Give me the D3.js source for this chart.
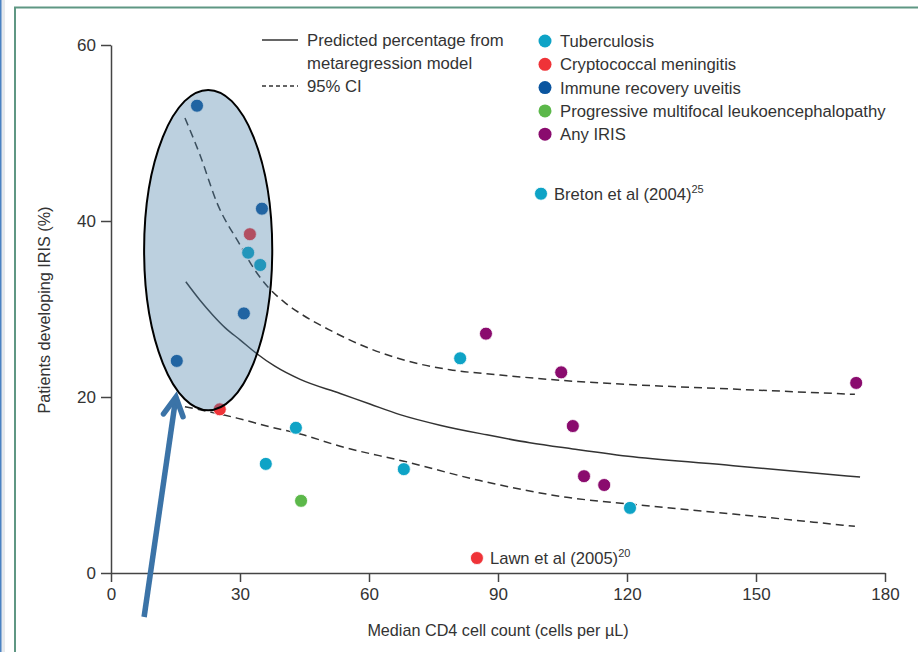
<!DOCTYPE html>
<html>
<head>
<meta charset="utf-8">
<script src="https://cdn.jsdelivr.net/npm/d3@7"></script>
<style>
  body { margin: 0; background: #fff; }
  text { font-family: "Liberation Sans", Arial, sans-serif; fill: #333; }
  .axis path, .axis line { stroke: #444; stroke-width: 1.5; }
  .axis text { font-size: 17px; fill: #333; }
</style>
</head>
<body>
<svg id="chart"></svg>
<script>
const width = 918,
      height = 652;

// categories and colours
const categories = ["Tuberculosis", "Cryptococcal meningitis", "Immune recovery uveitis",
                    "Progressive multifocal leukoencephalopathy", "Any IRIS"];
const catColors = ["#0ea3c6", "#ef3338", "#0b559f", "#5cb84a", "#8a0b6e"];

// study points (median CD4, % IRIS)
const tbX = [31.9, 34.7, 43.0, 36.0, 68.1, 81.2, 120.7];
const tbY = [36.4, 35.0, 16.5, 12.4, 11.8, 24.4, 7.4];
const cmX = [32.3, 25.3];
const cmY = [38.5, 18.6];
const iruX = [20.0, 35.1, 30.9, 15.3];
const iruY = [53.1, 41.4, 29.5, 24.1];
const pmlX = [44.2];
const pmlY = [8.2];
const anyX = [87.2, 104.7, 107.4, 110.0, 114.7, 173.3];
const anyY = [27.2, 22.8, 16.7, 11.0, 10.0, 21.6];

// labelled studies
const labelNames = ["Breton et al (2004)", "Lawn et al (2005)"];
const labelRefs = ["25", "20"];
const labelX = [100.0, 85.1];
const labelY = [43.1, 1.7];
const labelCat = [0, 1];

// metaregression fit and 95% CI
const fitX = [17.4, 20.7, 23.7, 26.7, 30.0, 33.7, 38.1, 44.0, 53.3, 60.2, 67.2, 76.5, 87.4, 97.4, 107.4, 121.4, 144.7, 174.2];
const fitY = [33.1, 31.0, 29.3, 27.8, 26.5, 25.0, 23.5, 22.0, 20.4, 19.2, 18.0, 16.8, 15.7, 14.8, 14.1, 13.2, 12.2, 10.9];
const upX = [17.2, 20.7, 24.7, 30.0, 33.5, 36.5, 40.5, 44.0, 50.9, 60.2, 68.1, 78.8, 90.5, 104.4, 121.4, 144.7, 173.0];
const upY = [51.7, 47.5, 42.0, 37.3, 34.4, 32.5, 30.7, 29.5, 27.6, 25.5, 24.2, 23.1, 22.5, 21.9, 21.4, 20.9, 20.3];
const loX = [17.2, 29.3, 37.0, 44.0, 53.3, 68.1, 85.8, 106.0, 121.4, 144.7, 173.0];
const loY = [18.9, 17.6, 16.6, 15.8, 14.4, 12.7, 10.5, 8.6, 7.8, 6.7, 5.3];

const xTicks = [0, 30, 60, 90, 120, 150, 180];
const yTicks = [0, 20, 40, 60];

const svg = d3.select("#chart").attr("width", width).attr("height", height);

// page frame
svg.append("rect").attr("x", 0).attr("y", 0).attr("width", 5).attr("height", height).attr("fill", "#e6e9ec");
svg.append("rect").attr("x", 0).attr("y", 0).attr("width", 1.5).attr("height", height).attr("fill", "#4a82c2");
svg.append("path").attr("d", `M15,${height} V7.5 H${width}`)
    .attr("fill", "none").attr("stroke", "#5f9783").attr("stroke-width", 2);

const x = d3.scaleLinear().domain([0, 180]).range([111, 885]);
const y = d3.scaleLinear().domain([0, 60]).range([573, 45]);

// axes
svg.append("g").attr("class", "axis")
    .attr("transform", `translate(0,${y(0)})`)
    .call(d3.axisBottom(x).tickValues(xTicks).tickSize(9).tickSizeOuter(0).tickPadding(6));
svg.append("g").attr("class", "axis")
    .attr("transform", `translate(${x(0)},0)`)
    .call(d3.axisLeft(y).tickValues(yTicks).tickSize(10).tickSizeOuter(0).tickPadding(5));

svg.append("text").attr("x", 498).attr("y", 636).attr("text-anchor", "middle")
    .style("font-size", "16.2px").text("Median CD4 cell count (cells per µL)");
svg.append("text").attr("transform", "translate(50,310) rotate(-90)").attr("text-anchor", "middle")
    .style("font-size", "16.2px").text("Patients developing IRIS (%)");

// curves
const line = d3.line().x(d => x(d[0])).y(d => y(d[1])).curve(d3.curveMonotoneX);
const curves = [
    { xs: fitX, ys: fitY, dash: null },
    { xs: upX, ys: upY, dash: "8,5" },
    { xs: loX, ys: loY, dash: "8,5" },
];
curves.forEach(c => {
    svg.append("path")
        .attr("d", line(d3.zip(c.xs, c.ys)))
        .attr("fill", "none").attr("stroke", "#333").attr("stroke-width", 1.5)
        .attr("stroke-dasharray", c.dash);
});

// points
const pts = [];
[[tbX, tbY], [cmX, cmY], [iruX, iruY], [pmlX, pmlY], [anyX, anyY]].forEach((s, i) => {
    s[0].forEach((v, j) => pts.push({ x: v, y: s[1][j], c: i }));
});
labelX.forEach((v, j) => pts.push({ x: v, y: labelY[j], c: labelCat[j] }));

svg.append("g").selectAll("circle").data(pts).join("circle")
    .attr("cx", d => x(d.x)).attr("cy", d => y(d.y)).attr("r", 6.5)
    .attr("fill", d => catColors[d.c]).attr("stroke", "#fff").attr("stroke-width", 0.8);

// labels for the two named studies
labelNames.forEach((n, j) => {
    const t = svg.append("text").attr("x", x(labelX[j]) + 13).attr("y", y(labelY[j]) + 6)
        .style("font-size", "16.6px").text(n);
    t.append("tspan").attr("dy", -7).style("font-size", "11px").text(labelRefs[j]);
});

// highlight ellipse (semi-transparent over the early points)
svg.append("ellipse")
    .attr("cx", x(22.6)).attr("cy", y(36.7))
    .attr("rx", x(14.9) - x(0)).attr("ry", y(0) - y(18.2))
    .attr("fill", "rgb(74,128,169)").attr("fill-opacity", 0.37)
    .attr("stroke", "#000").attr("stroke-width", 2);

// arrow pointing to the ellipse
const tail = [x(7.7), y(-5.0)], tip = [x(15.1), y(20.0)];
const ang = Math.atan2(tail[1] - tip[1], tail[0] - tip[0]);
const arm = 21, spread = 28 * Math.PI / 180;
const a1 = [tip[0] + arm * Math.cos(ang + spread), tip[1] + arm * Math.sin(ang + spread)];
const a2 = [tip[0] + arm * Math.cos(ang - spread), tip[1] + arm * Math.sin(ang - spread)];
svg.append("path").attr("d", `M${tail}L${tip}`)
    .attr("stroke", "#3b73a7").attr("stroke-width", 5.5).attr("fill", "none");
svg.append("path").attr("d", `M${a1}L${tip}L${a2}`)
    .attr("stroke", "#3b73a7").attr("stroke-width", 5.5).attr("fill", "none")
    .attr("stroke-linejoin", "miter").attr("stroke-linecap", "round");

// legend: lines
const lg = svg.append("g");
lg.append("line").attr("x1", 262).attr("x2", 298).attr("y1", 40).attr("y2", 40)
    .attr("stroke", "#333").attr("stroke-width", 1.5);
lg.append("line").attr("x1", 262).attr("x2", 298).attr("y1", 86).attr("y2", 86)
    .attr("stroke", "#333").attr("stroke-width", 1.5).attr("stroke-dasharray", "4,3");
["Predicted percentage from", "metaregression model", "95% CI"].forEach((s, i) => {
    lg.append("text").attr("x", 307).attr("y", 46 + i * 23).style("font-size", "16.7px").text(s);
});

// legend: categories
categories.forEach((c, i) => {
    lg.append("circle").attr("cx", 545).attr("cy", 41 + i * 23.3).attr("r", 6.5).attr("fill", catColors[i]);
    lg.append("text").attr("x", 560).attr("y", 47 + i * 23.3).style("font-size", "16.7px").text(c);
});
</script>
</body>
</html>
